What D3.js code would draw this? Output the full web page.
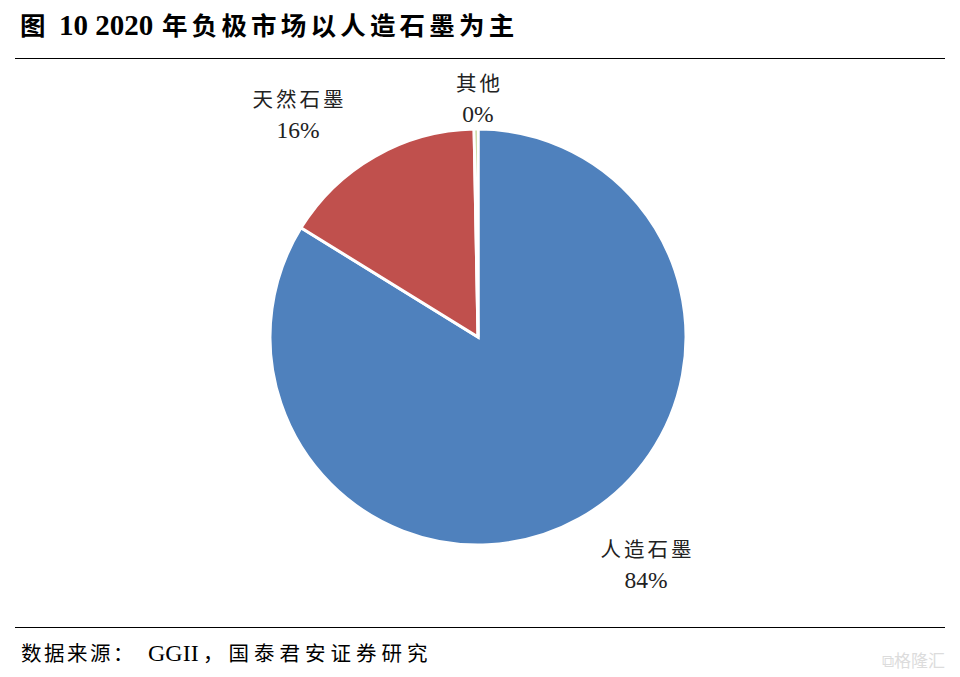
<!DOCTYPE html>
<html><head><meta charset="utf-8">
<script src="https://cdn.jsdelivr.net/npm/d3@7"></script>
<style>body{margin:0;background:#fff;}svg{display:block;}</style>
</head><body>
<script>
const categories = ["人造石墨", "天然石墨", "其他"];
const values = [83.8, 15.9, 0.3];
const pctLabels = ["84%", "16%", "0%"];
const colors = ["#4F81BD", "#C0504D", "#9BBB59"];

const W = 960, H = 677;
const latin = "'Liberation Serif','Noto Sans CJK SC',serif";
const cjk = "'Noto Sans CJK SC','Liberation Serif',serif";
const svg = d3.select("body").append("svg").attr("width", W).attr("height", H);

// title
const title = svg.append("text").attr("x", 20).attr("y", 35).attr("font-weight", "bold").attr("fill", "#000");
title.append("tspan").attr("font-family", cjk).attr("font-size", 25.5).text("图");
title.append("tspan").attr("x", 59).attr("font-family", latin).attr("font-size", 29).text("10 2020");
title.append("tspan").attr("x", 162).attr("font-family", cjk).attr("font-size", 25.5)
  .style("letter-spacing", "4.2px").text("年负极市场以人造石墨为主");

svg.append("line").attr("x1", 15).attr("x2", 945).attr("y1", 58.5).attr("y2", 58.5)
  .attr("stroke", "#000").attr("stroke-width", 1.2);
svg.append("line").attr("x1", 15).attr("x2", 945).attr("y1", 627.5).attr("y2", 627.5)
  .attr("stroke", "#000").attr("stroke-width", 1.2);

// footer
const foot = svg.append("text").attr("x", 21).attr("y", 661).attr("fill", "#000");
foot.append("tspan").attr("font-family", cjk).attr("font-size", 20.5).style("letter-spacing", "2.5px").text("数据来源：");
foot.append("tspan").attr("x", 148).attr("font-family", latin).attr("font-size", 24).text("GGII");
foot.append("tspan").attr("x", 203).attr("font-family", cjk).attr("font-size", 20.5).style("letter-spacing", "5px").text("，国泰君安证券研究");

svg.append("text").attr("x", 945).attr("y", 667).attr("text-anchor", "end")
  .attr("font-family", cjk).attr("font-size", 17)
  .attr("fill", "#dcdcdc").text("⧉格隆汇");

// pie
const cx = 478, cy = 337, R = 208;
const pie = d3.pie().sort(null).value(d => d);
const arcs = pie(values);
const arc = d3.arc().innerRadius(0).outerRadius(R);
const g = svg.append("g").attr("transform", `translate(${cx},${cy})`);
g.selectAll("path").data(arcs).enter().append("path")
  .attr("d", arc).attr("fill", (d, i) => colors[i])
  .attr("stroke", "#fff").attr("stroke-width", 3).attr("stroke-linejoin", "miter");

// labels
const labelPos = [[646, 557], [298, 107], [478, 91]];
categories.forEach((c, i) => {
  svg.append("text").attr("x", labelPos[i][0] + 1.5).attr("y", labelPos[i][1])
    .attr("text-anchor", "middle").attr("font-family", cjk).attr("font-size", 20.5)
    .style("letter-spacing", "3px").attr("fill", "#222").text(c);
  svg.append("text").attr("x", labelPos[i][0]).attr("y", labelPos[i][1] + 31)
    .attr("text-anchor", "middle").attr("font-family", latin).attr("font-size", 23.5)
    .attr("fill", "#222").text(pctLabels[i]);
});
</script>
</body></html>
